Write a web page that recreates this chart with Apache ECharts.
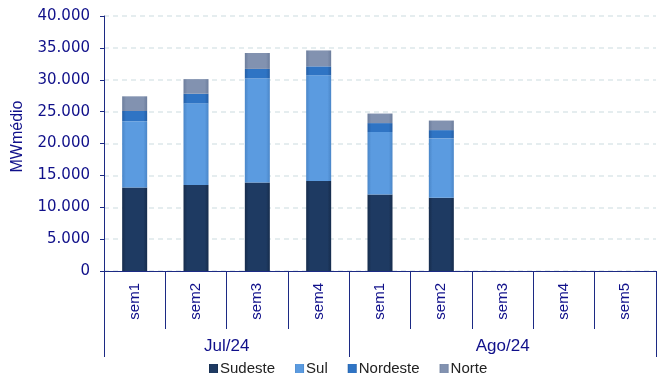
<!DOCTYPE html>
<html>
<head>
<meta charset="utf-8">
<script src="https://cdn.jsdelivr.net/npm/echarts@6/dist/echarts.min.js"></script>
<style>html,body{margin:0;padding:0;background:#fff}#c{width:657px;height:378px}</style>
</head>
<body>
<div id="c"></div>
<script>
const weeks = ['sem1','sem2','sem3','sem4','sem1','sem2','sem3','sem4','sem5'];
const months = ['Jul/24','Ago/24'];
const monthSizes = [4,5];
const yTicks = [0,5000,10000,15000,20000,25000,30000,35000,40000];
const sudeste = [13100,13500,13900,14100,12000,11500,null,null,null];
const sul = [10400,12800,16300,16600,9800,9300,null,null,null];
const nordeste = [1600,1500,1500,1400,1400,1300,null,null,null];
const norte = [2300,2300,2500,2500,1500,1500,null,null,null];

// second-level axis: half-category points (boundaryGap false)
const total = monthSizes.reduce((a,b)=>a+b,0);
const halfPts = [];
const labelIdx = {};
const tickIdx = new Set([0]);
let acc = 0;
monthSizes.forEach((s,i)=>{ labelIdx[acc + s] = months[i]; acc += 2*s; tickIdx.add(acc); });
for (let i = 0; i <= 2*total; i++) halfPts.push(labelIdx[i] || '');

const navy = '#1c2a84';
const txt = '#10108a';
function grad(c1, c2){
  return new echarts.graphic.LinearGradient(0,0,1,0,[
    {offset:0,color:c2},{offset:0.15,color:c1},{offset:0.85,color:c1},{offset:1,color:c2}]);
}
const chart = echarts.init(document.getElementById('c'));
const fmt = v => v === 0 ? '0' : v.toLocaleString('de-DE');
chart.setOption({
  animation:false,
  grid:{left:104,right:1,top:16,bottom:107,containLabel:false,outerBoundsMode:'none'},
  legend:{
    bottom:-3,left:204,itemWidth:9,itemHeight:9,itemGap:20,
    icon:'rect',
    textStyle:{fontFamily:'Liberation Sans',fontSize:15,color:'#222',padding:[0,0,0,-3]},
    data:['Sudeste','Sul','Nordeste','Norte']
  },
  xAxis:[{
    type:'category',data:weeks,
    axisLine:{lineStyle:{color:navy,width:1}},
    axisTick:{show:true,interval:0,length:58,lineStyle:{color:navy}},
    axisLabel:{rotate:90,interval:0,margin:12,color:txt,fontFamily:'Liberation Sans',fontSize:15}
  },{
    type:'category',data:halfPts,boundaryGap:false,position:'bottom',
    axisLine:{show:false},
    axisTick:{show:true,length:86,interval:(i)=>tickIdx.has(i),lineStyle:{color:navy}},
    axisLabel:{interval:(i,v)=>v!=='',margin:67,color:txt,fontFamily:'Liberation Sans',fontSize:17},
    splitLine:{show:false}
  }],
  yAxis:{
    type:'value',min:0,max:40000,interval:5000,
    name:'MWmédio',nameLocation:'middle',nameGap:78,nameRotate:90,
    nameTextStyle:{color:txt,fontFamily:'Liberation Sans',fontSize:16,padding:[0,0,0,14]},
    axisLine:{show:true,lineStyle:{color:navy}},
    axisTick:{show:true,length:4,lineStyle:{color:navy}},
    axisLabel:{margin:14,color:txt,fontFamily:'DejaVu Sans',fontSize:15,formatter:fmt},
    splitLine:{show:true,lineStyle:{color:'#dde8ea',type:[5,4],width:1.5}}
  },
  series:[
    {name:'Sudeste',type:'bar',stack:'t',barWidth:25,data:sudeste,itemStyle:{color:grad('#1e3a62','#162c4c')}},
    {name:'Sul',type:'bar',stack:'t',data:sul,itemStyle:{color:grad('#5b9be0','#4a86c8')}},
    {name:'Nordeste',type:'bar',stack:'t',data:nordeste,itemStyle:{color:grad('#2f74c4','#255fa6')}},
    {name:'Norte',type:'bar',stack:'t',data:norte,itemStyle:{color:grad('#8292b0','#6c7d9c')}}
  ]
});
</script>
</body>
</html>
